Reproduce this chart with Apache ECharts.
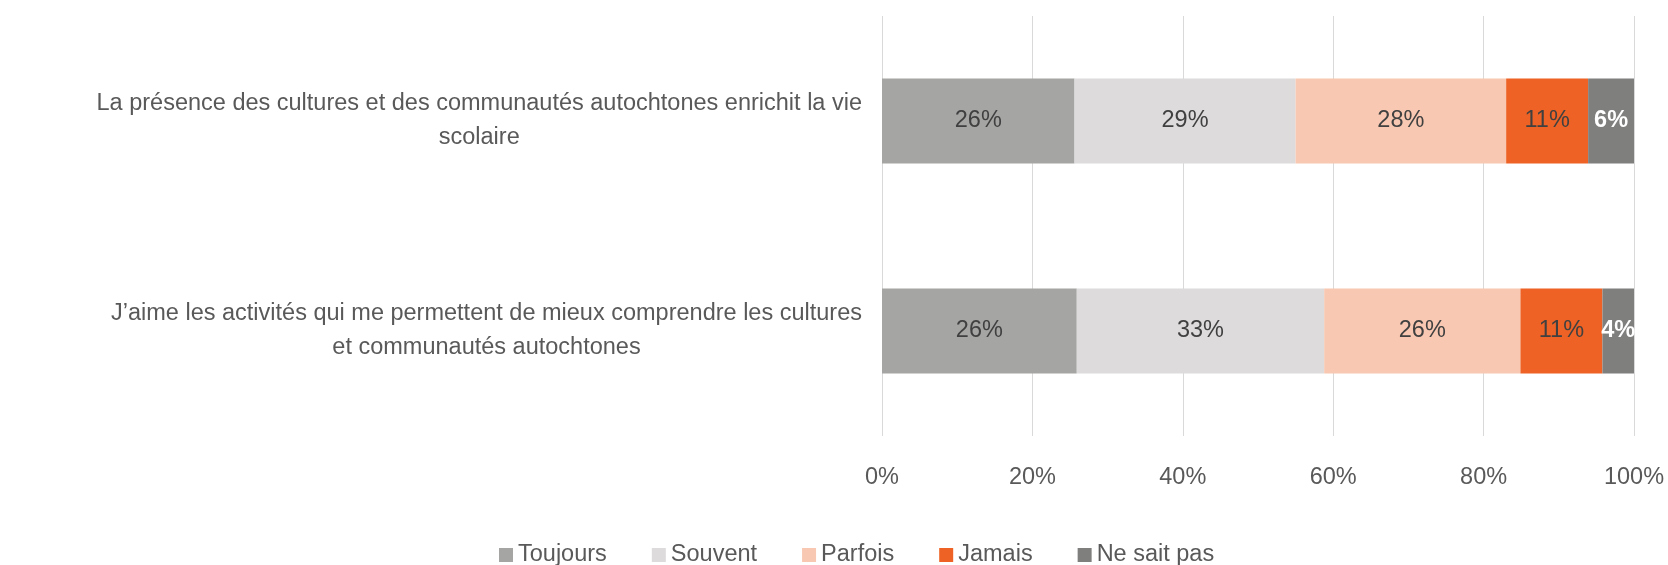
<!DOCTYPE html>
<html>
<head>
<meta charset="utf-8">
<script src="https://cdn.jsdelivr.net/npm/echarts@6/dist/echarts.min.js"></script>
<style>
  html, body { margin: 0; padding: 0; background: #fff; }
  #main { width: 1668px; height: 565px; }
</style>
</head>
<body>
<div id="main"></div>
<script>
// questions (top to bottom) and answer categories
var questions = [
    'La présence des cultures et des communautés autochtones enrichit la vie\nscolaire',
    'J’aime les activités qui me permettent de mieux comprendre les cultures\net communautés autochtones'
];
var answers = ['Toujours', 'Souvent', 'Parfois', 'Jamais', 'Ne sait pas'];
var colors = ['#a5a5a4', '#dddbdb', '#f8c8b2', '#ee6325', '#7f7f7e'];

// share of each answer, one value per question (in %)
var toujours  = [25.6, 25.9];
var souvent   = [29.4, 32.9];
var parfois   = [28.0, 26.1];
var jamais    = [10.9, 10.9];
var neSaitPas = [6.1, 4.2];
var valueSets = [toujours, souvent, parfois, jamais, neSaitPas];

var xTicks = [0, 20, 40, 60, 80, 100];

var font = 'Liberation Sans';
var fs = 23.5;

var series = [];
for (var i = 0; i < answers.length; i++) {
    series.push({
        name: answers[i],
        type: 'bar',
        stack: 'total',
        barWidth: 85,
        itemStyle: { color: colors[i] },
        label: {
            show: true,
            position: 'inside',
            fontFamily: font,
            fontSize: fs,
            color: i == 4 ? '#ffffff' : '#404040',
            fontWeight: i == 4 ? 'bold' : 'normal',
            formatter: function (p) { return Math.round(p.value) + '%'; }
        },
        data: valueSets[i]
    });
}

var myChart = echarts.init(document.getElementById('main'));
var option = {
    animation: false,
    color: colors,
    grid: { left: 882, right: 34, top: 16, bottom: 129 },
    legend: {
        top: 538,
        left: 494,
        itemWidth: 14,
        itemHeight: 14,
        itemGap: 45,
        icon: 'rect',
        textStyle: { fontFamily: font, fontSize: fs, color: '#595959' },
        data: answers
    },
    xAxis: {
        type: 'value',
        min: 0,
        max: 100,
        interval: 20,
        axisLine: { show: false },
        axisTick: { show: false },
        splitLine: { lineStyle: { color: '#d9d9d9', width: 1 } },
        axisLabel: {
            margin: 30,
            fontFamily: font,
            fontSize: fs,
            color: '#595959',
            formatter: function (v) { return xTicks.indexOf(v) >= 0 ? v + '%' : ''; }
        }
    },
    yAxis: {
        type: 'category',
        inverse: true,
        data: questions,
        axisLine: { show: false },
        axisTick: { show: false },
        axisLabel: {
            margin: 20,
            lineHeight: 34,
            formatter: function (v) {
                return v.split('\n').map(function (s) { return '{a|' + s + '}'; }).join('\n');
            },
            rich: {
                a: { align: 'center', fontFamily: font, fontSize: fs, lineHeight: 34, color: '#595959' }
            }
        }
    },
    series: series
};
myChart.setOption(option);
</script>
</body>
</html>
